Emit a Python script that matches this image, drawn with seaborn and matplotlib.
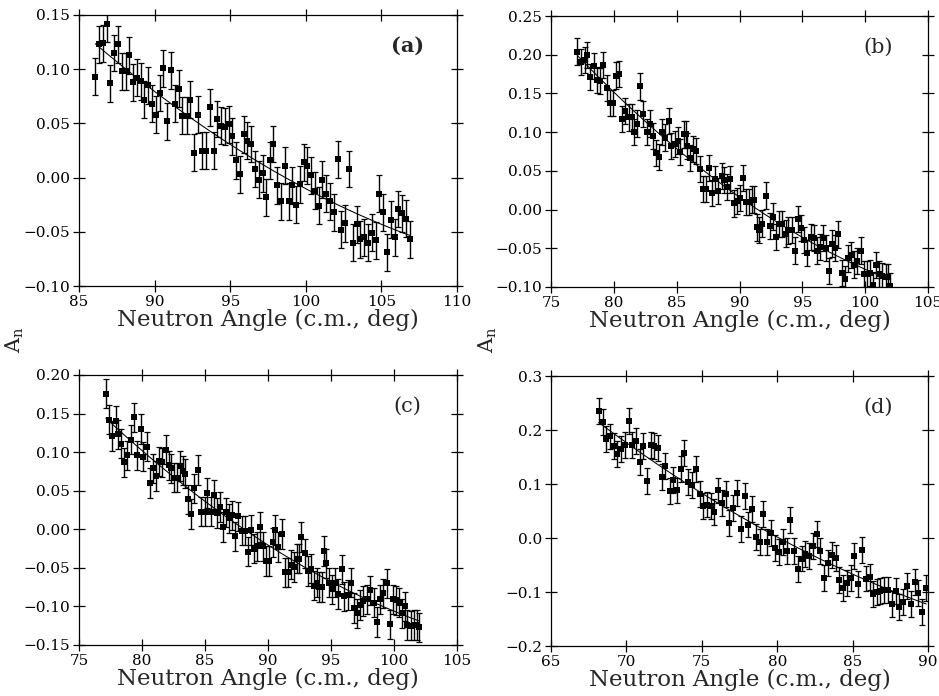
import numpy as np
import matplotlib
matplotlib.use('Agg')
import matplotlib.pyplot as plt
import seaborn as sns

sns.set_style('ticks')
plt.rcParams['font.family'] = ['DejaVu Serif']
plt.rcParams['mathtext.fontset'] = 'dejavuserif'

# panel (a)
angle_a = [86.08, 86.32, 86.57, 86.83, 87.07, 87.34, 87.60, 87.84, 88.09, 88.33,
           88.59, 88.84, 89.08, 89.32, 89.59, 89.83, 90.09, 90.36, 90.58, 90.84,
           91.08, 91.35, 91.61, 91.83, 92.12, 92.36, 92.63, 92.89, 93.13, 93.38,
           93.64, 93.91, 94.15, 94.39, 94.66, 94.90, 95.14, 95.38, 95.65, 95.89,
           96.13, 96.38, 96.64, 96.88, 97.15, 97.37, 97.63, 97.85, 98.12, 98.36,
           98.62, 98.87, 99.11, 99.35, 99.62, 99.86, 100.10, 100.34, 100.61, 100.85,
           101.09, 101.36, 101.60, 101.84, 102.11, 102.35, 102.59, 102.86, 103.10, 103.36,
           103.61, 103.85, 104.11, 104.36, 104.62, 104.84, 105.11, 105.37, 105.61, 105.88,
           106.12, 106.36, 106.63, 106.89]
an_a = [0.093, 0.123, 0.124, 0.142, 0.087, 0.115, 0.123, 0.098, 0.098, 0.113,
        0.088, 0.092, 0.089, 0.072, 0.085, 0.068, 0.058, 0.078, 0.101, 0.052,
        0.099, 0.068, 0.082, 0.057, 0.057, 0.072, 0.023, 0.058, 0.025, 0.025,
        0.065, 0.025, 0.054, 0.048, 0.047, 0.049, 0.038, 0.016, 0.003, 0.040,
        0.034, 0.031, 0.008, -0.002, 0.004, -0.018, 0.016, 0.031, -0.007, -0.022,
        0.011, -0.022, -0.007, -0.025, -0.006, 0.014, 0.011, 0.002, -0.012, -0.026,
        -0.002, -0.015, -0.022, -0.032, 0.017, -0.048, -0.042, 0.008, -0.060, -0.043,
        -0.057, -0.055, -0.060, -0.051, -0.058, -0.015, -0.032, -0.069, -0.039, -0.055,
        -0.029, -0.033, -0.038, -0.057]
err_a = 0.017

# panel (b)
angle_b = [77.10, 77.39, 77.68, 77.89, 78.13, 78.42, 78.66, 78.93, 79.16, 79.43,
           79.69, 79.96, 80.15, 80.41, 80.68, 80.92, 81.18, 81.42, 81.63, 81.87,
           82.11, 82.35, 82.61, 82.85, 83.09, 83.36, 83.59, 83.83, 84.10, 84.36,
           84.58, 84.84, 85.11, 85.29, 85.56, 85.74, 85.85, 86.09, 86.33, 86.56,
           86.83, 87.10, 87.33, 87.57, 87.84, 88.08, 88.32, 88.58, 88.79, 89.03,
           89.24, 89.54, 89.77, 90.04, 90.30, 90.54, 90.78, 90.99, 91.18, 91.37,
           91.58, 91.82, 92.13, 92.40, 92.67, 92.90, 93.16, 93.40, 93.67, 93.88,
           94.14, 94.41, 94.65, 94.89, 95.16, 95.40, 95.66, 95.90, 96.14, 96.38,
           96.64, 96.88, 97.12, 97.39, 97.63, 97.86, 98.13, 98.37, 98.61, 98.87,
           99.11, 99.38, 99.64, 99.88, 100.12, 100.36, 100.60, 100.86, 101.13, 101.37,
           101.63, 101.82, 101.95]
an_b = [0.204, 0.191, 0.193, 0.200, 0.171, 0.185, 0.167, 0.166, 0.187, 0.157,
        0.138, 0.138, 0.173, 0.175, 0.117, 0.127, 0.119, 0.119, 0.100, 0.111,
        0.159, 0.123, 0.100, 0.111, 0.095, 0.073, 0.068, 0.100, 0.093, 0.114,
        0.082, 0.085, 0.089, 0.074, 0.097, 0.097, 0.082, 0.067, 0.078, 0.076,
        0.052, 0.027, 0.027, 0.054, 0.021, 0.039, 0.024, 0.043, 0.038, 0.029,
        0.039, 0.008, 0.011, 0.015, 0.041, 0.010, 0.010, 0.013, 0.013, -0.023,
        -0.026, -0.018, 0.018, -0.021, -0.009, -0.035, -0.019, -0.019, -0.031, -0.027,
        -0.026, -0.053, -0.012, -0.024, -0.039, -0.056, -0.035, -0.037, -0.053, -0.048,
        -0.037, -0.050, -0.079, -0.044, -0.050, -0.032, -0.082, -0.090, -0.063, -0.059,
        -0.071, -0.066, -0.053, -0.083, -0.083, -0.082, -0.097, -0.072, -0.083, -0.086,
        -0.087, -0.087, -0.099]
err_b = 0.017

# panel (c)
angle_c = [77.12, 77.38, 77.65, 77.91, 78.12, 78.31, 78.57, 78.81, 79.10, 79.37,
           79.63, 79.89, 80.11, 80.37, 80.63, 80.87, 81.11, 81.35, 81.59, 81.88,
           82.12, 82.33, 82.54, 82.80, 83.02, 83.23, 83.41, 83.68, 83.89, 84.15,
           84.42, 84.68, 84.97, 85.19, 85.45, 85.69, 85.93, 86.19, 86.40, 86.67,
           86.93, 87.17, 87.41, 87.65, 87.91, 88.17, 88.41, 88.65, 88.89, 89.10,
           89.37, 89.63, 89.87, 90.11, 90.37, 90.58, 90.79, 91.08, 91.35, 91.59,
           91.83, 92.06, 92.30, 92.49, 92.65, 92.91, 93.15, 93.39, 93.62, 93.86,
           94.07, 94.29, 94.42, 94.60, 94.81, 95.08, 95.29, 95.53, 95.85, 96.06,
           96.32, 96.59, 96.83, 97.09, 97.33, 97.57, 97.83, 98.12, 98.41, 98.62,
           98.89, 99.15, 99.42, 99.68, 99.95, 100.16, 100.37, 100.61, 100.85, 101.06,
           101.32, 101.56, 101.83, 102.01]
an_c = [0.176, 0.142, 0.121, 0.141, 0.123, 0.111, 0.087, 0.096, 0.116, 0.145,
        0.096, 0.130, 0.094, 0.107, 0.060, 0.079, 0.069, 0.088, 0.087, 0.103,
        0.083, 0.079, 0.067, 0.067, 0.082, 0.076, 0.072, 0.039, 0.020, 0.053,
        0.077, 0.023, 0.023, 0.047, 0.023, 0.045, 0.021, 0.029, 0.003, 0.022,
        0.014, 0.018, -0.009, 0.017, -0.002, -0.002, -0.029, -0.001, -0.025, -0.022,
        0.003, -0.022, -0.041, -0.041, -0.017, -0.001, -0.023, -0.006, -0.056, -0.056,
        -0.046, -0.049, -0.038, -0.038, -0.010, -0.031, -0.054, -0.051, -0.073, -0.069,
        -0.075, -0.075, -0.028, -0.044, -0.069, -0.078, -0.069, -0.084, -0.052, -0.087,
        -0.085, -0.069, -0.102, -0.109, -0.098, -0.093, -0.091, -0.079, -0.095, -0.120,
        -0.091, -0.083, -0.070, -0.123, -0.091, -0.092, -0.095, -0.109, -0.100, -0.124,
        -0.125, -0.124, -0.124, -0.127]
err_c = 0.019

# panel (d)
angle_d = [68.16, 68.42, 68.66, 68.91, 69.15, 69.39, 69.64, 69.90, 70.14, 70.39,
           70.63, 70.87, 71.11, 71.36, 71.60, 71.84, 72.11, 72.35, 72.59, 72.86,
           73.10, 73.34, 73.59, 73.83, 74.09, 74.34, 74.60, 74.85, 75.09, 75.33,
           75.60, 75.84, 76.08, 76.35, 76.59, 76.83, 77.07, 77.34, 77.58, 77.85,
           78.09, 78.33, 78.57, 78.84, 79.08, 79.33, 79.59, 79.83, 80.10, 80.36,
           80.63, 80.87, 81.11, 81.38, 81.62, 81.87, 82.13, 82.38, 82.62, 82.86,
           83.12, 83.37, 83.61, 83.87, 84.12, 84.36, 84.60, 84.87, 85.11, 85.35,
           85.62, 85.86, 86.13, 86.37, 86.61, 86.85, 87.10, 87.34, 87.60, 87.85,
           88.11, 88.35, 88.61, 88.86, 89.13, 89.37, 89.61, 89.88]
an_d = [0.236, 0.215, 0.184, 0.188, 0.170, 0.156, 0.164, 0.172, 0.216, 0.172,
        0.180, 0.141, 0.170, 0.106, 0.173, 0.170, 0.167, 0.113, 0.133, 0.087,
        0.107, 0.088, 0.128, 0.157, 0.104, 0.098, 0.127, 0.081, 0.060, 0.062,
        0.060, 0.048, 0.088, 0.064, 0.082, 0.028, 0.056, 0.083, 0.017, 0.077,
        0.025, 0.054, 0.002, -0.007, 0.044, -0.007, 0.009, -0.018, -0.026, -0.007,
        -0.024, 0.034, -0.024, -0.057, -0.038, -0.029, -0.034, -0.015, 0.007, -0.024,
        -0.074, -0.046, -0.032, -0.037, -0.077, -0.092, -0.083, -0.074, -0.034, -0.086,
        -0.023, -0.075, -0.072, -0.104, -0.100, -0.098, -0.096, -0.097, -0.123, -0.098,
        -0.127, -0.119, -0.089, -0.123, -0.081, -0.101, -0.137, -0.092]
err_d = 0.024

panels = [
    ('(a)', angle_a, an_a, err_a, (85, 110), (-0.10, 0.15), [85, 90, 95, 100, 105, 110],
     [-0.10, -0.05, 0.00, 0.05, 0.10, 0.15], '{:.2f}'),
    ('(b)', angle_b, an_b, err_b, (75, 105), (-0.10, 0.25), [75, 80, 85, 90, 95, 100, 105],
     [-0.10, -0.05, 0.00, 0.05, 0.10, 0.15, 0.20, 0.25], '{:.2f}'),
    ('(c)', angle_c, an_c, err_c, (75, 105), (-0.15, 0.20), [75, 80, 85, 90, 95, 100, 105],
     [-0.15, -0.10, -0.05, 0.00, 0.05, 0.10, 0.15, 0.20], '{:.2f}'),
    ('(d)', angle_d, an_d, err_d, (65, 90), (-0.2, 0.3), [65, 70, 75, 80, 85, 90],
     [-0.2, -0.1, 0.0, 0.1, 0.2, 0.3], '{:.1f}'),
]

fig = plt.figure(figsize=(9.39, 6.96), dpi=100)
W, H = 939, 696
boxes = [(79, 15, 457, 286), (551, 16, 928, 287), (79, 375, 457, 645), (551, 376, 928, 646)]

for (tag, x, y, err, xl, yl, xt, yt, fmt), (l, t, r, b) in zip(panels, boxes):
    ax = fig.add_axes([l / W, 1 - b / H, (r - l) / W, (b - t) / H])
    ax.errorbar(x, y, yerr=err, fmt='none', ecolor='black', elinewidth=1.0,
                capsize=2.3, capthick=0.9)
    sns.scatterplot(x=x, y=y, marker='s', s=18, color='black', linewidth=0, ax=ax)
    sns.regplot(x=x, y=y, order=2, scatter=False, ci=None, truncate=True,
                line_kws=dict(color='black', lw=0.75), ax=ax)
    ax.set_xlim(*xl)
    ax.set_ylim(*yl)
    ax.set_xticks(xt)
    ax.set_yticks(yt)
    ax.set_yticklabels([fmt.format(v).replace('-', '\u2212') for v in yt])
    ax.tick_params(direction='inout', length=9, width=0.9, top=True, right=True,
                   labelsize=11, pad=2, colors='black')
    for sp in ax.spines.values():
        sp.set_linewidth(0.9)
        sp.set_color('black')
    ax.set_xlabel('Neutron Angle (c.m., deg)', fontsize=16.5, labelpad=0)
    ax.set_ylabel('')
    ax.text(0.868, 0.885, tag, transform=ax.transAxes, fontsize=15,
            ha='center', va='center', fontweight='bold' if tag == '(a)' else 'normal')

fig.text(15 / W, 1 - 340 / H, r'A$_\mathregular{n}$', rotation=90, fontsize=15,
         ha='center', va='center')
fig.text(488 / W, 1 - 340 / H, r'A$_\mathregular{n}$', rotation=90, fontsize=15,
         ha='center', va='center')

fig.savefig('out.png', dpi=100)
